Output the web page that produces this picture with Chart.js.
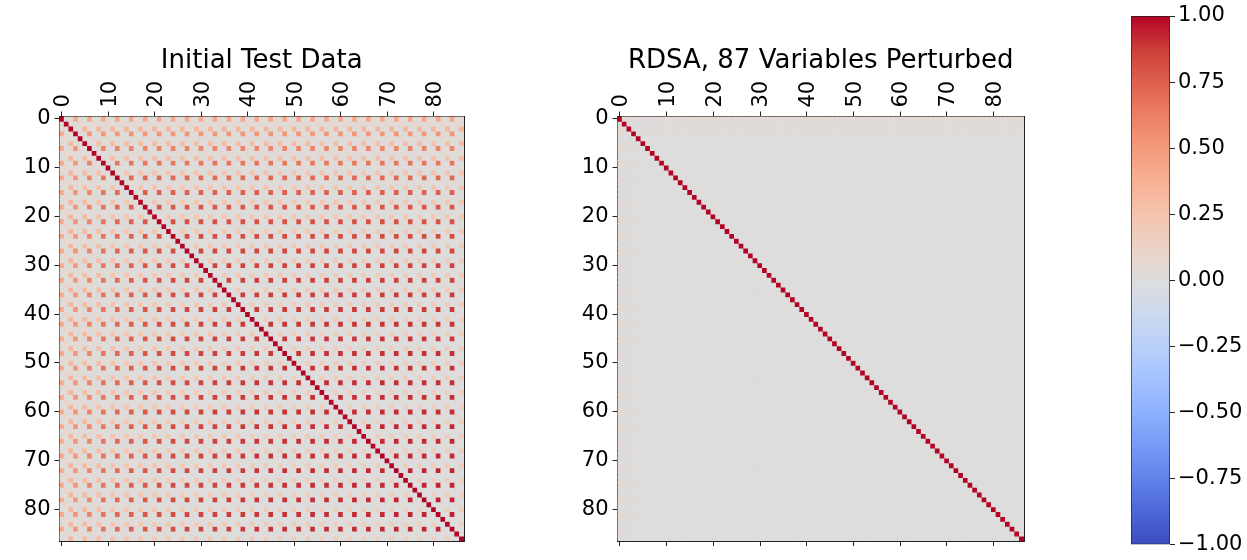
<!DOCTYPE html>
<html>
<head>
<meta charset="utf-8">
<script src="https://cdn.jsdelivr.net/npm/chart.js@4.4.1/dist/chart.umd.min.js"></script>
<style>
  body { margin: 0; background: #fff; width: 1247px; height: 560px; position: relative; overflow: hidden; }
  canvas { position: absolute; top: 0; }
</style>
</head>
<body>
<canvas id="leftChart" width="480" height="560" style="left:0px"></canvas>
<canvas id="rightChart" width="480" height="560" style="left:560px"></canvas>
<canvas id="cbarChart" width="147" height="560" style="left:1100px"></canvas>
<script>
var nVars = 87;
var axisTicks = [0, 10, 20, 30, 40, 50, 60, 70, 80];
var cbarTicks = [-1, -0.75, -0.5, -0.25, 0, 0.25, 0.5, 0.75, 1];
var titleLeft = 'Initial Test Data';
var titleRight = 'RDSA, 87 Variables Perturbed';

// correlation level per block of 3 variables (block = index / 3),
// for pairs in the same slot of the block
var initStrong = [0.42, 0.52, 0.60, 0.66, 0.71, 0.75, 0.78, 0.80, 0.82, 0.84, 0.85, 0.86, 0.87, 0.88, 0.89,
                  0.89, 0.90, 0.90, 0.91, 0.91, 0.91, 0.92, 0.92, 0.92, 0.93, 0.93, 0.93, 0.93, 0.94];
var initWeak   = [0.34, 0.30, 0.28, 0.26, 0.25, 0.24, 0.23, 0.22, 0.22, 0.21, 0.21, 0.20, 0.20, 0.20, 0.19,
                  0.19, 0.19, 0.19, 0.18, 0.18, 0.18, 0.18, 0.18, 0.18, 0.17, 0.17, 0.17, 0.17, 0.17];
var initFaint  = [0.08, 0.06, 0.05, 0.04, 0.04, 0.03, 0.03, 0.03, 0.03, 0.03, 0.03, 0.03, 0.03, 0.03, 0.03,
                  0.03, 0.03, 0.03, 0.03, 0.03, 0.03, 0.03, 0.03, 0.03, 0.03, 0.03, 0.03, 0.03, 0.03];
var initCross  = [0.03, 0.02, 0.02, 0.01, 0.01, 0.01, 0.01, 0.01, 0.00, 0.00, 0.00, 0.00, 0.00, 0.00, 0.00,
                  0.00, 0.00, 0.00, 0.00, 0.00, 0.00, 0.00, 0.00, 0.00, 0.00, 0.00, 0.00, 0.00, 0.00];

var pertStrong = [0.08, 0.05, 0.04, 0.03, 0.03, 0.03, 0.03, 0.03, 0.03, 0.03, 0.03, 0.03, 0.03, 0.03, 0.03,
                  0.03, 0.03, 0.03, 0.03, 0.03, 0.03, 0.03, 0.03, 0.03, 0.03, 0.03, 0.03, 0.03, 0.03];
var pertWeak   = [0.02, 0.01, 0.01, 0.01, 0.01, 0.01, 0.01, 0.01, 0.01, 0.01, 0.01, 0.01, 0.01, 0.01, 0.01,
                  0.01, 0.01, 0.01, 0.01, 0.01, 0.01, 0.01, 0.01, 0.01, 0.01, 0.01, 0.01, 0.01, 0.01];
var pertFaint  = [0.00, 0.00, 0.00, 0.00, 0.00, 0.00, 0.00, 0.00, 0.00, 0.00, 0.00, 0.00, 0.00, 0.00, 0.00,
                  0.00, 0.00, 0.00, 0.00, 0.00, 0.00, 0.00, 0.00, 0.00, 0.00, 0.00, 0.00, 0.00, 0.00];
var pertCross  = [0.01, 0.00, 0.00, 0.00, 0.00, 0.00, 0.00, 0.00, 0.00, 0.00, 0.00, 0.00, 0.00, 0.00, 0.00,
                  0.00, 0.00, 0.00, 0.00, 0.00, 0.00, 0.00, 0.00, 0.00, 0.00, 0.00, 0.00, 0.00, 0.00];

// matplotlib coolwarm, sampled every 1/16
var cmapStops = [
    [59, 76, 192], [77, 104, 215], [98, 130, 234], [119, 154, 247], [141, 176, 254],
    [163, 194, 255], [184, 208, 249], [204, 217, 238], [221, 221, 221], [236, 211, 197],
    [245, 196, 173], [247, 177, 148], [244, 154, 123], [236, 127, 99], [222, 96, 77],
    [203, 62, 56], [180, 4, 38]
];

Chart.defaults.font.family = 'DejaVu Sans';
Chart.defaults.color = '#000';

function coolwarm(v) {
    var t = (Math.max(-1, Math.min(1, v)) + 1) / 2 * (cmapStops.length - 1);
    var k = Math.min(Math.floor(t), cmapStops.length - 2);
    var f = t - k;
    var a = cmapStops[k], b = cmapStops[k + 1];
    var c = [0, 1, 2].map(function (n) { return Math.round(a[n] + (b[n] - a[n]) * f); });
    return 'rgb(' + c.join(',') + ')';
}

function buildMatrix(strong, weak, faint, cross) {
    var m = [];
    for (var i = 0; i < nVars; i++) {
        var row = [];
        for (var j = 0; j < nVars; j++) {
            var b = Math.min(Math.floor(i / 3), Math.floor(j / 3));
            var v;
            if (i == j) v = 1;
            else if (i % 3 != j % 3) v = cross[b];
            else if (i % 3 == 0) v = strong[b];
            else if (i % 3 == 2) v = weak[b];
            else v = faint[b];
            row.push(v);
        }
        m.push(row);
    }
    return m;
}

function setTicks(list) {
    return function (scale) {
        scale.ticks = list.map(function (v) { return { value: v }; });
    };
}

var tickFont = { size: 21 };
var axisColor = '#222';

function drawMatrix(id, matrix, title, leftW) {
    // one dataset per row, each cell a floating bar [row-0.5, row+0.5]
    var datasets = matrix.map(function (row, i) {
        return {
            data: row.map(function (v, j) { return { x: j, y: [i - 0.5, i + 0.5] }; }),
            backgroundColor: row.map(coolwarm),
            borderWidth: 0,
            grouped: false,
            barPercentage: 1,
            categoryPercentage: 1,
            xAxisID: 'x',
            yAxisID: 'y'
        };
    });

    var grid = { drawOnChartArea: false, offset: false, tickLength: 5, color: axisColor, lineWidth: 1 };
    var border = { color: axisColor, width: 1 };

    new Chart(document.getElementById(id), {
        type: 'bar',
        data: { datasets: datasets },
        options: {
            responsive: false,
            animation: false,
            events: [],
            layout: { padding: 0 },
            plugins: {
                legend: { display: false },
                tooltip: { enabled: false },
                title: {
                    display: true,
                    text: title,
                    fullSize: false,
                    color: '#000',
                    font: { size: 26, weight: 'normal' },
                    padding: { top: 46, bottom: 0 }
                }
            },
            scales: {
                x: {
                    type: 'linear', position: 'top', offset: false, min: -0.5, max: nVars - 0.5,
                    afterBuildTicks: setTicks(axisTicks),
                    afterFit: function (s) { s.height = 39.3; },
                    ticks: {
                        font: tickFont, color: '#000', padding: 4, labelOffset: 27,
                        minRotation: 90, maxRotation: 90, autoSkip: false
                    },
                    grid: grid, border: border
                },
                x2: {
                    type: 'linear', position: 'bottom', offset: false, min: -0.5, max: nVars - 0.5,
                    afterBuildTicks: setTicks(axisTicks),
                    afterFit: function (s) { s.height = 19; },
                    ticks: { display: false },
                    grid: grid, border: border
                },
                y: {
                    type: 'linear', position: 'left', reverse: true, offset: false, min: -0.5, max: nVars - 0.5,
                    afterBuildTicks: setTicks(axisTicks),
                    afterFit: function (s) { s.width = leftW; },
                    ticks: { font: tickFont, color: '#000', padding: 4, autoSkip: false },
                    grid: grid, border: border
                },
                y2: {
                    type: 'linear', position: 'right', reverse: true, offset: false, min: -0.5, max: nVars - 0.5,
                    afterFit: function (s) { s.width = 16; },
                    ticks: { display: false },
                    grid: { display: false }, border: border
                }
            }
        }
    });
}

drawMatrix('leftChart', buildMatrix(initStrong, initWeak, initFaint, initCross), titleLeft, 59.5);
drawMatrix('rightChart', buildMatrix(pertStrong, pertWeak, pertFaint, pertCross), titleRight, 57.5);

// colour bar
function cbarFill(c) {
    var a = c.chart.chartArea;
    if (!a) return '#ddd';
    var g = c.chart.ctx.createLinearGradient(0, a.bottom, 0, a.top);
    cmapStops.forEach(function (s, k) {
        g.addColorStop(k / (cmapStops.length - 1), 'rgb(' + s.join(',') + ')');
    });
    return g;
}

new Chart(document.getElementById('cbarChart'), {
    type: 'bar',
    data: {
        labels: [''],
        datasets: [{
            data: [[-1, 1]],
            backgroundColor: cbarFill,
            borderColor: axisColor,
            borderWidth: 1,
            borderSkipped: false,
            barPercentage: 1,
            categoryPercentage: 1
        }]
    },
    options: {
        responsive: false,
        animation: false,
        events: [],
        layout: { padding: { left: 31, top: 16, bottom: 15 } },
        plugins: { legend: { display: false }, tooltip: { enabled: false } },
        scales: {
            x: { display: false },
            y: {
                position: 'right', min: -1, max: 1,
                afterBuildTicks: setTicks(cbarTicks),
                afterFit: function (s) { s.width = 77; },
                ticks: {
                    font: tickFont, color: '#000', padding: 3,
                    callback: function (v) { return (v < 0 ? '\u2212' : '') + Math.abs(v).toFixed(2); }
                },
                grid: { drawOnChartArea: false, tickLength: 5, color: axisColor },
                border: { display: false }
            }
        }
    }
});
</script>
</body>
</html>
